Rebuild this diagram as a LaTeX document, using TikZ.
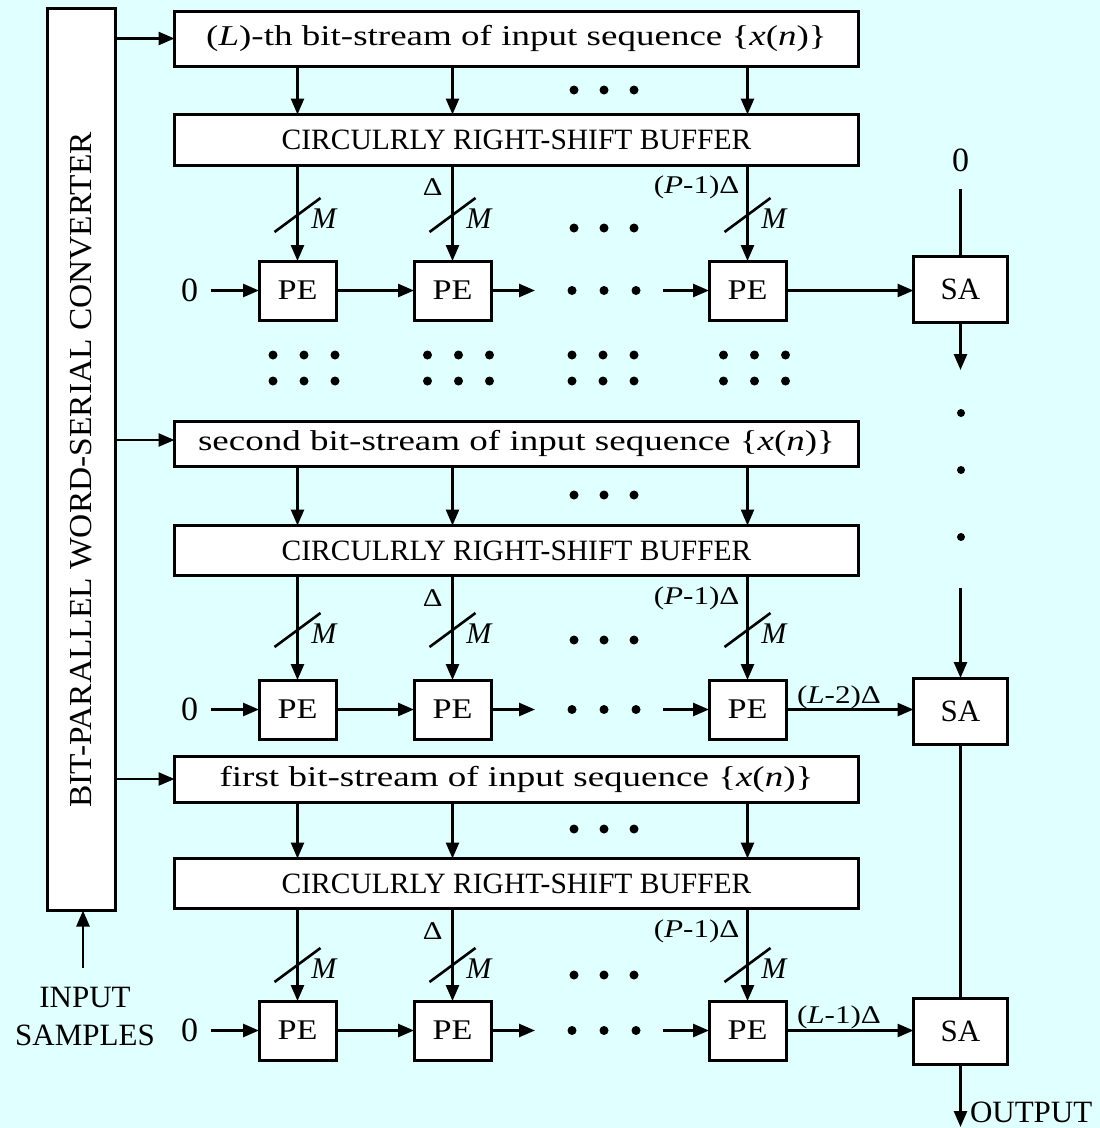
\documentclass[tikz,border=0pt]{standalone}
\usepackage{fontspec}
\setmainfont{Liberation Serif}
\usetikzlibrary{arrows.meta,calc}
\definecolor{bgcyan}{RGB}{224,255,255}
\newcommand{\fsz}[1]{\fontsize{#1}{#1}\selectfont}
\newcommand{\hstretch}[2]{\scalebox{#1}[1]{#2}}

\begin{document}
\begin{tikzpicture}[x=1pt,y=-1pt,
  blk/.style={draw, fill=white, line width=3pt, inner sep=0pt, outer sep=0pt},
  streambox/.style={blk, minimum width=684pt, font=\fsz{28.7}},
  bufbox/.style={blk, minimum width=684pt, font=\fsz{29.5}},
  pe/.style={blk, minimum width=77pt, minimum height=59pt, font=\fsz{28.5}},
  sa/.style={blk, minimum width=94pt, minimum height=66pt, font=\fsz{31}},
  wire/.style={line width=2.6pt},
  arr/.style={wire, -{Triangle[length=16pt,width=13pt]}},
  lbl/.style={inner sep=0pt, outer sep=0pt},
  mlab/.style={lbl, font=\fsz{30}},
  dlab/.style={lbl, font=\fsz{25.5}},
  zero/.style={lbl, font=\fsz{34}, inner xsep=13pt},
  bigtxt/.style={lbl, font=\fsz{31}},
]
% background and page frame
\fill[bgcyan] (0,0) rectangle (1100,1128);
\useasboundingbox (0,0) rectangle (1100,1128);

% converter column
\node[blk, minimum width=68pt, minimum height=902pt] (conv) at (81.5,459.5) {};
\node[lbl, rotate=90, font=\fsz{32}] (convtxt) at (81.5,470)
  {\hstretch{1.045}{BIT-PARALLEL WORD-SERIAL CONVERTER}};

% bit-stream boxes
\node[streambox, minimum height=55pt] (S1) at (516.5,38.5)
  {\hstretch{1.29}{(\textit{L})-th bit-stream of input sequence \{\textit{x}(\textit{n})\}}};
\node[streambox, minimum height=45pt] (S2) at (516.5,443.5)
  {\hstretch{1.29}{second bit-stream of input sequence \{\textit{x}(\textit{n})\}}};
\node[streambox, minimum height=46pt] (S3) at (516.5,779)
  {\hstretch{1.29}{first bit-stream of input sequence \{\textit{x}(\textit{n})\}}};

% shift buffers
\node[bufbox, minimum height=51pt] (B1) at (516.5,140) {CIRCULRLY RIGHT-SHIFT BUFFER};
\node[bufbox, minimum height=50pt] (B2) at (516.5,550.5) {CIRCULRLY RIGHT-SHIFT BUFFER};
\node[bufbox, minimum height=50pt] (B3) at (516.5,883.5) {CIRCULRLY RIGHT-SHIFT BUFFER};

% processing elements
\foreach \r/\ry in {1/290.5, 2/709.5, 3/1030.5} {
  \foreach \c/\cx in {1/297.5, 2/452.5, 3/747.5} {
    \node[pe] (PE\r\c) at (\cx,\ry) {\hstretch{1.2}{PE}};
  }
}

% summation/accumulation blocks
\node[sa] (SA1) at (960.5,289) {SA};
\node[sa] (SA2) at (960.5,711) {SA};
\node[sa] (SA3) at (960.5,1031.5) {SA};

% converter outputs to the bit-stream boxes
\draw[arr] (conv.east |- S1.west) -- (S1.west);
\draw[arr] (conv.east |- 0,440) -- (S2.west |- 0,440);
\draw[arr] (conv.east |- S3.west) -- (S3.west);

% input samples
\coordinate (inbase) at (83,968);
\draw[arr] (inbase) -- (inbase |- conv.south);
\node[bigtxt, align=center, font=\fontsize{31}{38}\selectfont] (inlbl) at (85,1016) {INPUT\\SAMPLES};

% per-row wiring
\foreach \r/\ry/\sy/\ly/\da/\db in {1/290.5/215/187/90/228, 2/709.5/630/598/495/640, 3/1030.5/965/931/829/975} {
  \foreach \c in {1,2,3} {
    \draw[arr] (PE\r\c.north |- S\r.south) -- (PE\r\c.north |- B\r.north);
    \draw[arr] (PE\r\c.north |- B\r.south) -- (PE\r\c.north);
    \draw[wire] ($(PE\r\c.north |- 0,\sy)+(-23,17)$) -- ++(46,-34);
    \node[mlab] (M\r\c) at ($(PE\r\c.north |- 0,\sy)+(27,4)$) {\textit{M}};
  }
  \node[dlab, anchor=east] (D\r) at (442.5,\ly) {\hstretch{1.2}{Δ}};
  \node[dlab, anchor=east] (P\r) at (739.5,\ly) {\hstretch{1.22}{(\textit{P}-1)Δ}};
  % ellipsis dots between columns
  \foreach \x in {574,604,634} {
    \fill (\x,\da) circle[radius=4.5pt];
    \fill (\x,\db) circle[radius=4.5pt];
  }
  \foreach \x in {572,604,636} \fill (\x,\ry) circle[radius=4.5pt];
  % horizontal chain
  \node[zero] (Z\r) at (189.5,\ry) {0};
  \draw[arr] (Z\r.east) -- (PE\r1.west);
  \draw[arr] (PE\r1.east) -- (PE\r2.west);
  \coordinate (ga\r) at (535,\ry);
  \coordinate (gb\r) at (663,\ry);
  \draw[arr] (PE\r2.east) -- (ga\r);
  \draw[arr] (gb\r) -- (PE\r3.west);
  \draw[arr] (PE\r3.east) -- (PE\r3.east -| SA\r.west);
}

% delay labels on the last row links
\node[dlab] (L2) at (839,697) {\hstretch{1.22}{(\textit{L}-2)Δ}};
\node[dlab] (L1) at (839,1017) {\hstretch{1.22}{(\textit{L}-1)Δ}};

% rows of dots between the first and second row groups
\foreach \gx in {304,458.5,603,754.5} {
  \foreach \dx in {-31,0,31} {
    \fill (\gx+\dx,355) circle[radius=4.5pt];
    \fill (\gx+\dx,381) circle[radius=4.5pt];
  }
}

% accumulation chain
\node[lbl, font=\fsz{34}] (Z0) at (960.5,160) {0};
\coordinate (satop) at (960.5,189);
\draw[wire] (satop) -- (SA1.north);
\coordinate (sa1end) at (960.5,370);
\draw[arr] (SA1.south) -- (sa1end);
\foreach \y in {413,470,537} \fill (961,\y) circle[radius=4pt];
\coordinate (sa2start) at (960.5,588);
\draw[arr] (sa2start) -- (SA2.north);
\draw[wire] (SA2.south) -- (SA3.north);
\coordinate (outend) at (960.5,1127);
\draw[arr] (SA3.south) -- (outend);
\node[bigtxt, anchor=west] (outlbl) at (970,1112) {OUTPUT};
\end{tikzpicture}
\end{document}
